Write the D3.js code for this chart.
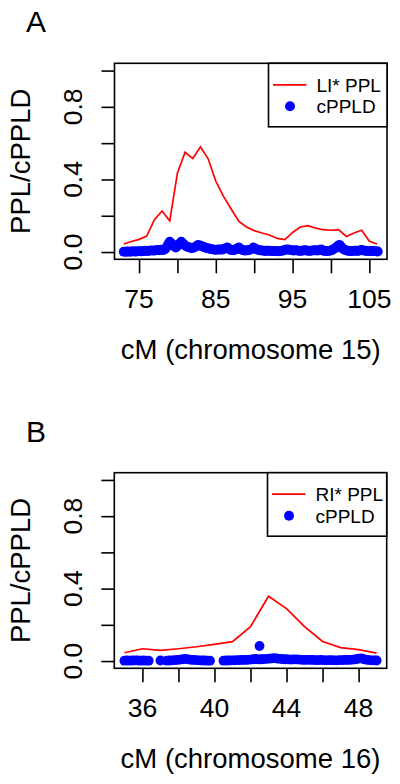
<!DOCTYPE html>
<html>
<head>
<meta charset="utf-8">
<script src="https://cdn.jsdelivr.net/npm/d3@7"></script>
<style>
  html, body { margin: 0; padding: 0; background: #fff; }
  svg { display: block; }
  text { font-family: "Liberation Sans", Arial, Helvetica, sans-serif; fill: #000; }
</style>
</head>
<body>
<svg id="chart" width="400" height="784"></svg>
<script>
// ---------- Panel A data (chromosome 15) ----------
const pplA_cM = [73,74,75,76,77,78,79,80,81,82,83,84,85,86,87,88,89,90,91,92,93,94,95,96,97,98,99,100,101,102,103,104,105,106];
const pplA = [0.044,0.058,0.070,0.088,0.178,0.226,0.171,0.436,0.550,0.515,0.580,0.514,0.390,0.307,0.237,0.169,0.138,0.118,0.105,0.094,0.075,0.068,0.108,0.138,0.145,0.132,0.123,0.120,0.123,0.086,0.105,0.120,0.059,0.044];
const cppldA_cM = [73.0,73.2,73.4,73.6,73.8,74.0,74.2,74.4,74.6,74.8,75.0,75.2,75.4,75.6,75.8,76.0,76.2,76.4,76.6,76.8,77.0,77.2,77.4,77.6,77.8,78.0,78.2,78.4,78.6,78.8,79.0,79.2,79.4,79.6,79.8,80.0,80.2,80.5,80.8,81.0,81.2,81.4,81.6,81.8,82.0,82.2,82.4,82.7,83.0,83.2,83.4,83.6,83.8,84.0,84.2,84.4,84.6,84.8,85.0,85.2,85.4,85.6,85.8,86.0,86.2,86.5,86.7,86.9,87.1,87.3,87.5,87.7,88.0,88.2,88.4,88.6,88.8,89.0,89.2,89.4,89.6,89.9,90.1,90.3,90.5,90.7,90.9,91.1,91.3,91.5,91.7,91.9,92.1,92.3,92.5,92.7,92.9,93.1,93.3,93.5,93.7,93.9,94.1,94.3,94.5,94.7,94.9,95.1,95.3,95.5,95.7,95.9,96.1,96.3,96.5,96.7,96.9,97.1,97.3,97.5,97.7,97.9,98.1,98.3,98.5,98.7,98.9,99.1,99.3,99.5,99.7,99.9,100.1,100.3,100.5,100.7,100.9,101.1,101.3,101.5,101.7,101.9,102.1,102.3,102.5,102.7,102.9,103.1,103.3,103.5,103.7,103.9,104.1,104.3,104.5,104.7,104.9,105.1,105.3,105.5,105.7,105.9,106.1];
const cppldA = [0.002,0.001,0.003,0.002,0.002,0.003,0.004,0.003,0.003,0.004,0.005,0.004,0.004,0.006,0.007,0.006,0.006,0.008,0.009,0.008,0.008,0.010,0.011,0.010,0.013,0.012,0.011,0.016,0.028,0.045,0.057,0.048,0.040,0.030,0.025,0.035,0.045,0.057,0.045,0.036,0.030,0.027,0.025,0.022,0.022,0.026,0.030,0.040,0.035,0.032,0.028,0.025,0.022,0.020,0.018,0.016,0.015,0.013,0.012,0.013,0.015,0.014,0.013,0.016,0.020,0.025,0.018,0.012,0.011,0.010,0.013,0.018,0.025,0.018,0.012,0.010,0.008,0.009,0.010,0.012,0.015,0.025,0.020,0.015,0.012,0.010,0.009,0.008,0.007,0.006,0.007,0.008,0.006,0.005,0.006,0.006,0.005,0.004,0.005,0.006,0.008,0.010,0.013,0.015,0.013,0.012,0.010,0.008,0.009,0.010,0.008,0.006,0.007,0.008,0.009,0.010,0.008,0.006,0.007,0.008,0.009,0.010,0.009,0.008,0.011,0.015,0.010,0.006,0.006,0.005,0.006,0.008,0.010,0.015,0.020,0.025,0.033,0.040,0.030,0.020,0.014,0.010,0.008,0.006,0.005,0.005,0.006,0.008,0.007,0.006,0.008,0.012,0.010,0.008,0.007,0.006,0.005,0.005,0.006,0.006,0.005,0.004,0.003];
const xTicksA = [75,80,85,90,95,100,105];
const xLabelsA = [75,85,95,105];

// ---------- Panel B data (chromosome 16) ----------
const pplB_cM = [35,36,37,38,39,40,41,42,43,44,45,46,47,48,49];
const pplB = [0.046,0.068,0.059,0.068,0.079,0.092,0.107,0.190,0.358,0.290,0.190,0.108,0.074,0.063,0.044];
const cppldB_cM = [35.0,35.15,35.3,35.45,35.6,35.75,35.9,36.05,36.2,36.35,37.0,37.35,37.5,37.65,37.8,37.95,38.1,38.25,38.4,38.55,38.7,38.85,39.0,39.15,39.3,39.45,39.6,39.75,40.5,40.65,40.8,40.95,41.1,41.25,41.4,41.55,41.7,41.85,42.0,42.15,42.3,42.45,42.6,42.75,42.9,43.05,43.2,43.35,43.5,43.65,43.8,43.95,44.1,44.25,44.4,44.55,44.7,44.85,45.0,45.15,45.3,45.45,45.6,45.75,45.9,46.05,46.2,46.35,46.5,46.65,46.8,46.95,47.1,47.25,47.4,47.55,47.7,47.85,48.0,48.15,48.3,48.45,48.6,48.75,48.9,49.0,42.5];
const cppldB = [0.002,0.003,0.002,0.003,0.004,0.003,0.002,0.003,0.002,0.002,0.003,0.002,0.003,0.004,0.005,0.006,0.008,0.010,0.012,0.009,0.007,0.006,0.005,0.004,0.003,0.003,0.002,0.002,0.002,0.003,0.003,0.004,0.004,0.005,0.005,0.006,0.006,0.007,0.008,0.010,0.012,0.009,0.010,0.011,0.012,0.013,0.015,0.016,0.013,0.012,0.010,0.010,0.009,0.008,0.009,0.009,0.008,0.007,0.006,0.007,0.007,0.006,0.005,0.005,0.006,0.005,0.004,0.005,0.005,0.004,0.004,0.005,0.005,0.006,0.006,0.007,0.008,0.010,0.013,0.015,0.010,0.007,0.005,0.004,0.004,0.003,0.083];
const xTicksB = [36,38,40,42,44,46,48];
const xLabelsB = [36,40,44,48];

// ---------- shared ----------
const yTicks = [0,0.2,0.4,0.6,0.8,1.0];
const yLabels = [0,0.4,0.8];
const yTitle = "PPL/cPPLD";
const legendDot = "cPPLD";

const svg = d3.select("#chart");

function drawPanel(o) {
  const g = svg.append("g");
  const x = d3.scaleLinear().domain(o.xDomain).range([o.left, o.right]);
  const y = d3.scaleLinear().domain([-0.04, 1.04]).range([o.bottom, o.top]);

  // panel letter
  g.append("text").attr("x", 26).attr("y", o.top - 31).attr("font-size", 30).text(o.letter);

  // red PPL line
  const line = d3.line().x(d => x(d[0])).y(d => y(d[1]));
  g.append("path")
    .datum(o.lineX.map((v, i) => [v, o.lineY[i]]))
    .attr("d", line).attr("fill", "none").attr("stroke", "#ff0000").attr("stroke-width", 1.7);

  // blue cPPLD points
  g.append("g").selectAll("circle")
    .data(o.dotX.map((v, i) => [v, o.dotY[i]]))
    .join("circle")
    .attr("cx", d => x(d[0])).attr("cy", d => y(d[1])).attr("r", 4.9)
    .attr("fill", "#0000ff");

  // box
  g.append("rect").attr("x", o.left).attr("y", o.top)
    .attr("width", o.right - o.left).attr("height", o.bottom - o.top)
    .attr("fill", "none").attr("stroke", "#000").attr("stroke-width", 1.6);

  // y axis ticks
  const yAx = d3.axisLeft(y).tickValues(yTicks).tickSize(13).tickFormat("");
  const ya = g.append("g").attr("transform", `translate(${o.left},0)`).call(yAx);
  ya.select(".domain").remove();
  ya.selectAll("line").attr("stroke-width", 1.6);
  g.append("g").selectAll("text").data(yLabels).join("text")
    .attr("transform", d => `translate(82,${y(d)}) rotate(-90)`)
    .attr("text-anchor", "middle").attr("font-size", 26.5)
    .text(d => d3.format(".1f")(d));

  // x axis ticks
  const xAx = d3.axisBottom(x).tickValues(o.xTicks).tickSize(14).tickFormat("");
  const xa = g.append("g").attr("transform", `translate(0,${o.bottom})`).call(xAx);
  xa.select(".domain").remove();
  xa.selectAll("line").attr("stroke-width", 1.6);
  g.append("g").selectAll("text").data(o.xLabels).join("text")
    .attr("x", d => x(d)).attr("y", o.bottom + 49)
    .attr("text-anchor", "middle").attr("font-size", 26.5)
    .text(d => d);

  // axis titles
  g.append("text").attr("x", (o.left + o.right) / 2).attr("y", o.bottom + 100)
    .attr("text-anchor", "middle").attr("font-size", 27.5).text(o.xTitle);
  g.append("text")
    .attr("transform", `translate(30,${(o.top + o.bottom) / 2}) rotate(-90)`)
    .attr("text-anchor", "middle").attr("font-size", 27.5).text(yTitle);

  // legend
  const lg = g.append("g");
  lg.append("rect").attr("x", o.legLeft).attr("y", o.top)
    .attr("width", o.right - o.legLeft).attr("height", 63.5)
    .attr("fill", "#fff").attr("stroke", "#000").attr("stroke-width", 1.6);
  lg.append("line").attr("x1", o.legLeft + 4.5).attr("x2", o.legLeft + 38)
    .attr("y1", o.top + 21.5).attr("y2", o.top + 21.5)
    .attr("stroke", "#ff0000").attr("stroke-width", 1.7);
  lg.append("circle").attr("cx", o.legLeft + 21.5).attr("cy", o.top + 43).attr("r", 5).attr("fill", "#0000ff");
  lg.append("text").attr("x", o.legLeft + 48).attr("y", o.top + 28.5).attr("font-size", 19).text(o.legLine);
  lg.append("text").attr("x", o.legLeft + 48).attr("y", o.top + 50).attr("font-size", 19).text(legendDot);
}

drawPanel({
  letter: "A", left: 114.5, right: 387, top: 63.3, bottom: 259.3,
  xDomain: [71.8, 107.3], xTicks: xTicksA, xLabels: xLabelsA,
  lineX: pplA_cM, lineY: pplA, dotX: cppldA_cM, dotY: cppldA,
  xTitle: "cM (chromosome 15)", legLeft: 268.5, legLine: "LI* PPL"
});
drawPanel({
  letter: "B", left: 114.3, right: 386.7, top: 472.7, bottom: 668.3,
  xDomain: [34.44, 49.56], xTicks: xTicksB, xLabels: xLabelsB,
  lineX: pplB_cM, lineY: pplB, dotX: cppldB_cM, dotY: cppldB,
  xTitle: "cM (chromosome 16)", legLeft: 267.5, legLine: "RI* PPL"
});
</script>
</body>
</html>
